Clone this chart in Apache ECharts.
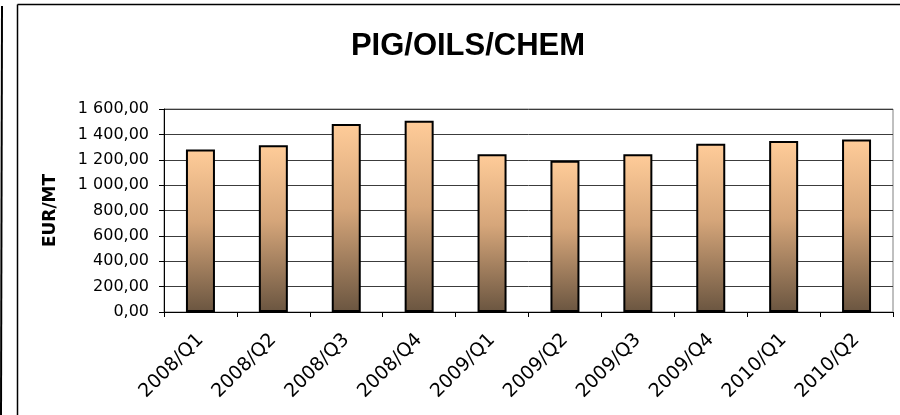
<!DOCTYPE html>
<html>
<head>
<meta charset="utf-8">
<script src="https://cdn.jsdelivr.net/npm/echarts@6/dist/echarts.min.js"></script>
<style>
  html, body { margin: 0; padding: 0; background: #fff; }
  #chart { width: 900px; height: 415px; }
</style>
</head>
<body>
<div id="chart"></div>
<script>
// quarters on the x axis
var quarters = ['2008/Q1', '2008/Q2', '2008/Q3', '2008/Q4', '2009/Q1',
                '2009/Q2', '2009/Q3', '2009/Q4', '2010/Q1', '2010/Q2'];
// EUR/MT per quarter
var prices = [1280, 1315, 1482, 1507, 1243, 1193, 1243, 1326, 1348, 1360];
var yTicks = { min: 0, max: 1600, step: 200 };

// 1600 -> "1 600,00"
function fmtNum(v) {
    let parts = v.toFixed(2).split('.');
    let intPart = parts[0].replace(/\B(?=(\d{3})+(?!\d))/g, ' ');
    return intPart + ',' + parts[1];
}

var chart = echarts.init(document.getElementById('chart'));

chart.setOption({
    animation: false,
    backgroundColor: '#fff',
    title: {
        text: 'PIG/OILS/CHEM',
        left: 463,
        top: 26,
        textAlign: 'center',
        textStyle: {
            fontFamily: 'Liberation Sans',
            fontWeight: 'bold',
            fontSize: 31,
            color: '#000'
        }
    },
    grid: {
        left: 164,
        right: 7,
        top: 109,
        bottom: 103,
        show: true,
        borderColor: '#808080',
        borderWidth: 1
    },
    xAxis: {
        type: 'category',
        data: quarters,
        axisLine: { lineStyle: { color: '#000', width: 1 } },
        axisTick: { show: true, alignWithLabel: false, length: 5, lineStyle: { color: '#000' } },
        axisLabel: {
            rotate: 45,
            margin: 25,
            fontFamily: 'DejaVu Sans',
            fontSize: 19,
            color: '#000'
        }
    },
    yAxis: {
        type: 'value',
        min: yTicks.min,
        max: yTicks.max,
        interval: yTicks.step,
        name: 'EUR/MT',
        nameLocation: 'middle',
        nameGap: 105,
        nameRotate: 90,
        nameTextStyle: {
            fontFamily: 'DejaVu Sans',
            fontWeight: 'bold',
            fontSize: 17,
            color: '#000'
        },
        axisLine: { show: true, lineStyle: { color: '#000', width: 1 } },
        axisTick: { show: true, length: 5, lineStyle: { color: '#000' } },
        axisLabel: {
            margin: 15,
            fontFamily: 'DejaVu Sans',
            fontSize: 16,
            color: '#000',
            formatter: fmtNum
        },
        splitLine: { lineStyle: { color: '#3c3c3c', width: 1 } }
    },
    series: [{
        type: 'bar',
        data: prices,
        barWidth: 29,
        itemStyle: {
            color: new echarts.graphic.LinearGradient(0, 0, 0, 1, [
                { offset: 0, color: '#ffcc99' },
                { offset: 0.45, color: '#d6a67a' },
                { offset: 1, color: '#6a5540' }
            ]),
            borderColor: '#000',
            borderWidth: 2
        }
    }],
    graphic: [
        // chart frame, as in the original sheet
        { type: 'line', shape: { x1: 17.5, y1: 4.5, x2: 17.5, y2: 415 }, style: { stroke: '#000', lineWidth: 1.5 } },
        { type: 'line', shape: { x1: 17.5, y1: 4.5, x2: 900, y2: 4.5 }, style: { stroke: '#000', lineWidth: 1.5 } },
        { type: 'line', shape: { x1: 2, y1: 6, x2: 1, y2: 415 }, style: { stroke: '#000', lineWidth: 2 } }
    ]
});
</script>
</body>
</html>
